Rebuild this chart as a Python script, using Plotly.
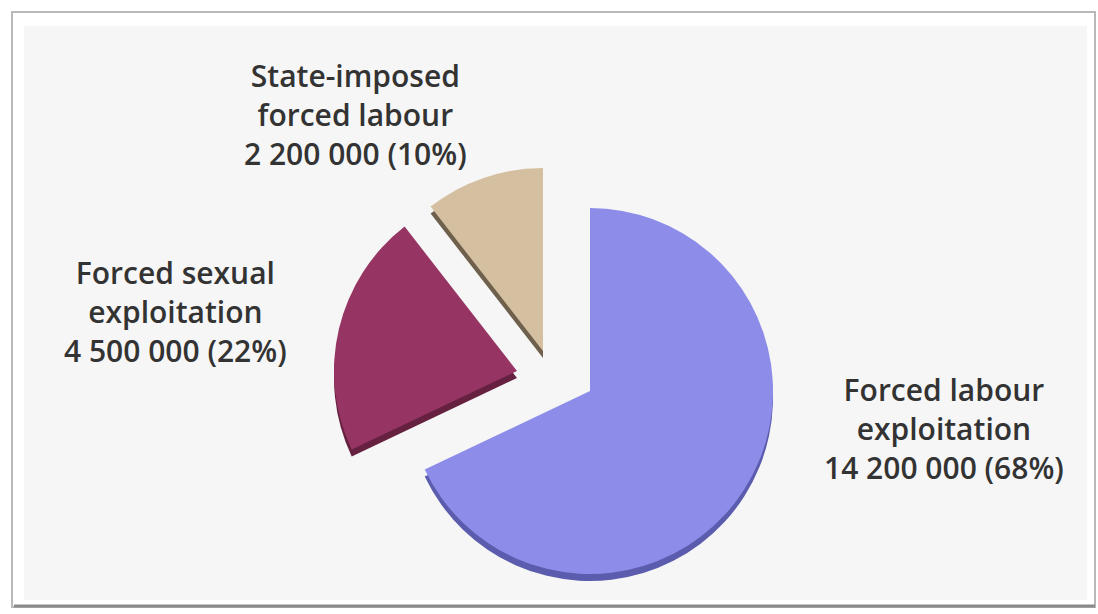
import plotly.graph_objects as go

# ---- data ----
categories = ["Forced labour exploitation", "Forced sexual exploitation", "State-imposed forced labour"]
label_lines = [["Forced labour", "exploitation"], ["Forced sexual", "exploitation"], ["State-imposed", "forced labour"]]
values = [14200000, 4500000, 2200000]
percents = [68, 22, 10]

# ---- style ----
W, H = 1098, 614
colors = ["#8d8de9", "#963564", "#d5bfa1"]
depth_colors = ["#5c5cae", "#65213f", "#6e604c"]
centers = [(590, 391), (517, 371), (543, 351)]   # pixel centers for each slice's pie (explosion offsets)
R = 183
DEPTH = 7
label_pos = [(944, 428), (355, 115), (175, 311)]
label_pos = [(944, 428), (175, 311), (355, 115)]
FONT = "Open Sans"
TRANSPARENT = "rgba(0,0,0,0)"


def dom(cx, cy, r):
    return dict(x=[(cx - r) / W, (cx + r) / W], y=[(H - cy - r) / H, (H - cy + r) / H])


def slice_colors(i, col):
    return [col if j == i else TRANSPARENT for j in range(len(values))]


fig = go.Figure()

# depth (3D edge) layers
for i, (cx, cy) in enumerate(centers):
    fig.add_trace(go.Pie(
        labels=categories, values=values, sort=False, direction="clockwise", rotation=0,
        marker=dict(colors=slice_colors(i, depth_colors[i]), line=dict(width=0)),
        textinfo="none", hoverinfo="skip", showlegend=False,
        domain=dom(cx, cy + DEPTH, R),
    ))

# top faces
for i, (cx, cy) in enumerate(centers):
    fig.add_trace(go.Pie(
        labels=categories, values=values, sort=False, direction="clockwise", rotation=0,
        marker=dict(colors=slice_colors(i, colors[i]), line=dict(width=0)),
        textinfo="none", hoverinfo="skip", showlegend=False,
        domain=dom(cx, cy, R),
    ))

# labels
for i, (lx, ly) in enumerate(label_pos):
    num = f"{values[i]:,}".replace(",", " ")
    text = "<br>".join(label_lines[i] + [f"{num} ({percents[i]}%)"])
    fig.add_annotation(
        x=lx / W, y=1 - ly / H, xref="paper", yref="paper",
        text=text, showarrow=False, xanchor="center", yanchor="middle",
        font=dict(family=FONT, size=30, color="#333333", weight=600), align="center",
    )

# frame
fig.add_shape(type="rect", xref="paper", yref="paper",
              x0=12 / W, x1=1095 / W, y0=1 - 607 / H, y1=1 - 12 / H,
              fillcolor="#ffffff", line=dict(color="#b9b9b9", width=2), layer="below")
fig.add_shape(type="rect", xref="paper", yref="paper",
              x0=24 / W, x1=1087 / W, y0=1 - 600 / H, y1=1 - 26 / H,
              fillcolor="#f6f6f6", line=dict(width=0), layer="below")
fig.add_shape(type="line", xref="paper", yref="paper",
              x0=14 / W, x1=1095 / W, y0=1 - 606 / H, y1=1 - 606 / H,
              line=dict(color="#8a8a8a", width=3), layer="below")

fig.update_layout(
    width=W, height=H,
    margin=dict(l=0, r=0, t=0, b=0),
    paper_bgcolor="#ffffff", plot_bgcolor="#ffffff",
    showlegend=False,
)

fig.write_html("out.html")
